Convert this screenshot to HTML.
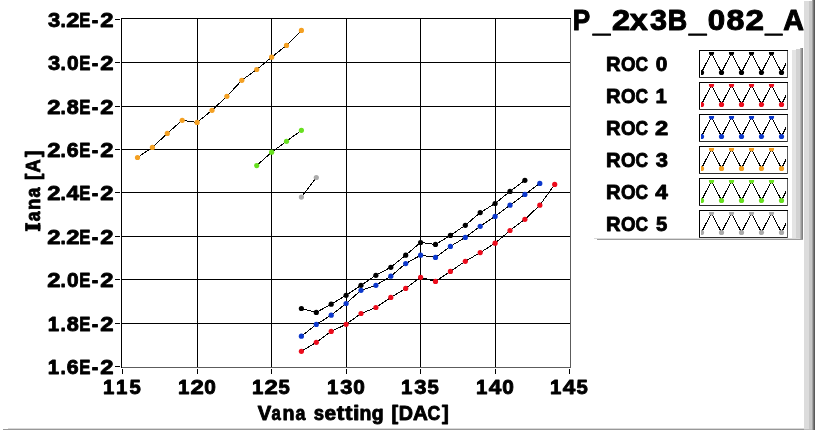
<!DOCTYPE html>
<html><head><meta charset="utf-8"><title>P_2x3B_082_A</title>
<style>
html,body{margin:0;padding:0;background:#fff;}
body{width:815px;height:430px;overflow:hidden;position:relative;font-family:"Liberation Sans",sans-serif;}
svg{position:absolute;left:0;top:0;display:block;will-change:transform}
text{font-family:"Liberation Sans",sans-serif;font-weight:bold;fill:#000;stroke:#000;stroke-width:0.9;stroke-linejoin:round;white-space:pre}
</style></head><body>
<svg width="815" height="430" viewBox="0 0 815 430">
<rect width="815" height="430" fill="#fff"/>

<g shape-rendering="crispEdges">
<rect x="8" y="428" width="796" height="1" fill="#d8d8d8"/>
<rect x="3" y="429" width="801" height="1" fill="#989898"/>
<rect x="804" y="1" width="5" height="428" fill="#dcdcdc"/>
<rect x="809" y="1" width="3" height="428" fill="#c8c8c8"/>
<rect x="804" y="429" width="8" height="1" fill="#bebebe"/>
<rect x="812" y="0" width="1" height="430" fill="#a4a4a4"/>
<rect x="813" y="0" width="1" height="430" fill="#787878"/>
<rect x="814" y="0" width="1" height="430" fill="#5a5a5a"/>
<rect x="792" y="50" width="4" height="190" fill="#e4e4e4"/>
<rect x="796" y="49" width="4" height="191" fill="#d2d2d2"/>
<rect x="800" y="48" width="1" height="192" fill="#b4b4b4"/>
<rect x="801" y="48" width="1" height="192" fill="#989898"/>
<rect x="802" y="48" width="1" height="192" fill="#808080"/>
<rect x="594" y="238" width="206" height="1" fill="#dadada"/>
<rect x="597" y="239" width="206" height="1" fill="#9c9c9c"/>
</g>
<g shape-rendering="crispEdges" stroke="#000" stroke-width="1">
<line x1="197.5" y1="19" x2="197.5" y2="367"/>
<line x1="271.5" y1="19" x2="271.5" y2="367"/>
<line x1="346.5" y1="19" x2="346.5" y2="367"/>
<line x1="420.5" y1="19" x2="420.5" y2="367"/>
<line x1="495.5" y1="19" x2="495.5" y2="367"/>
<line x1="122" y1="62.5" x2="570" y2="62.5"/>
<line x1="122" y1="106.5" x2="570" y2="106.5"/>
<line x1="122" y1="149.5" x2="570" y2="149.5"/>
<line x1="122" y1="192.5" x2="570" y2="192.5"/>
<line x1="122" y1="236.5" x2="570" y2="236.5"/>
<line x1="122" y1="279.5" x2="570" y2="279.5"/>
<line x1="122" y1="323.5" x2="570" y2="323.5"/>
</g>
<g shape-rendering="crispEdges">
<rect x="121" y="18" width="450" height="1" fill="#000"/>
<rect x="121" y="18" width="1" height="350" fill="#000"/>
<rect x="570" y="19" width="1" height="349" fill="#5c5c5c"/>
<rect x="122" y="367" width="449" height="1" fill="#5c5c5c"/>
<rect x="115" y="19" width="5" height="1" fill="#000"/>
<rect x="115" y="62" width="5" height="1" fill="#000"/>
<rect x="115" y="106" width="5" height="1" fill="#000"/>
<rect x="115" y="149" width="5" height="1" fill="#000"/>
<rect x="115" y="192" width="5" height="1" fill="#000"/>
<rect x="115" y="236" width="5" height="1" fill="#000"/>
<rect x="115" y="279" width="5" height="1" fill="#000"/>
<rect x="115" y="323" width="5" height="1" fill="#000"/>
<rect x="115" y="366" width="5" height="1" fill="#000"/>
<rect x="122" y="369" width="1" height="5" fill="#000"/>
<rect x="197" y="369" width="1" height="5" fill="#000"/>
<rect x="271" y="369" width="1" height="5" fill="#000"/>
<rect x="346" y="369" width="1" height="5" fill="#000"/>
<rect x="420" y="369" width="1" height="5" fill="#000"/>
<rect x="495" y="369" width="1" height="5" fill="#000"/>
<rect x="569" y="369" width="1" height="5" fill="#000"/>
</g>
<polyline points="301.4,308.5 316.3,312.4 331.2,304.2 346.1,295.3 361.0,285.3 375.9,275.3 390.8,267.3 405.7,255.2 420.6,242.5 435.5,244.4 450.4,235.4 465.3,225.3 480.2,212.6 495.1,203.5 510.0,191.4 524.9,180.3" fill="none" stroke="#000" stroke-width="1" shape-rendering="crispEdges"/>
<polyline points="301.4,351.3 316.3,342.3 331.2,331.4 346.1,324.3 361.0,313.5 375.9,307.5 390.8,297.4 405.7,288.4 420.6,277.3 435.5,281.4 450.4,271.4 465.3,261.3 480.2,252.6 495.1,243.2 510.0,230.5 524.9,219.3 539.8,205.2 554.7,184.4" fill="none" stroke="#000" stroke-width="1" shape-rendering="crispEdges"/>
<polyline points="301.4,336.2 316.3,324.4 331.2,315.2 346.1,303.5 361.0,290.3 375.9,285.3 390.8,276.2 405.7,263.6 420.6,255.2 435.5,257.4 450.4,246.4 465.3,237.4 480.2,226.3 495.1,216.4 510.0,205.2 524.9,194.4 539.8,183.4" fill="none" stroke="#000" stroke-width="1" shape-rendering="crispEdges"/>
<polyline points="137.5,157.5 152.4,147.4 167.3,133.4 182.2,120.3 197.1,122.4 212.0,110.3 226.9,96.3 241.8,80.3 256.7,69.5 271.6,57.2 286.5,45.4 301.4,30.4" fill="none" stroke="#000" stroke-width="1" shape-rendering="crispEdges"/>
<polyline points="256.7,165.6 271.6,152.2 286.5,141.3 301.4,130.3" fill="none" stroke="#000" stroke-width="1" shape-rendering="crispEdges"/>
<polyline points="301.4,197.1 316.3,177.5" fill="none" stroke="#000" stroke-width="1" shape-rendering="crispEdges"/>
<g fill="#000000"><circle cx="301.4" cy="308.5" r="2.6"/><circle cx="316.3" cy="312.4" r="2.6"/><circle cx="331.2" cy="304.2" r="2.6"/><circle cx="346.1" cy="295.3" r="2.6"/><circle cx="361.0" cy="285.3" r="2.6"/><circle cx="375.9" cy="275.3" r="2.6"/><circle cx="390.8" cy="267.3" r="2.6"/><circle cx="405.7" cy="255.2" r="2.6"/><circle cx="420.6" cy="242.5" r="2.6"/><circle cx="435.5" cy="244.4" r="2.6"/><circle cx="450.4" cy="235.4" r="2.6"/><circle cx="465.3" cy="225.3" r="2.6"/><circle cx="480.2" cy="212.6" r="2.6"/><circle cx="495.1" cy="203.5" r="2.6"/><circle cx="510.0" cy="191.4" r="2.6"/><circle cx="524.9" cy="180.3" r="2.6"/></g>
<g fill="#EC0C1C"><circle cx="301.4" cy="351.3" r="2.6"/><circle cx="316.3" cy="342.3" r="2.6"/><circle cx="331.2" cy="331.4" r="2.6"/><circle cx="346.1" cy="324.3" r="2.6"/><circle cx="361.0" cy="313.5" r="2.6"/><circle cx="375.9" cy="307.5" r="2.6"/><circle cx="390.8" cy="297.4" r="2.6"/><circle cx="405.7" cy="288.4" r="2.6"/><circle cx="420.6" cy="277.3" r="2.6"/><circle cx="435.5" cy="281.4" r="2.6"/><circle cx="450.4" cy="271.4" r="2.6"/><circle cx="465.3" cy="261.3" r="2.6"/><circle cx="480.2" cy="252.6" r="2.6"/><circle cx="495.1" cy="243.2" r="2.6"/><circle cx="510.0" cy="230.5" r="2.6"/><circle cx="524.9" cy="219.3" r="2.6"/><circle cx="539.8" cy="205.2" r="2.6"/><circle cx="554.7" cy="184.4" r="2.6"/></g>
<g fill="#0C38CC"><circle cx="301.4" cy="336.2" r="2.6"/><circle cx="316.3" cy="324.4" r="2.6"/><circle cx="331.2" cy="315.2" r="2.6"/><circle cx="346.1" cy="303.5" r="2.6"/><circle cx="361.0" cy="290.3" r="2.6"/><circle cx="375.9" cy="285.3" r="2.6"/><circle cx="390.8" cy="276.2" r="2.6"/><circle cx="405.7" cy="263.6" r="2.6"/><circle cx="420.6" cy="255.2" r="2.6"/><circle cx="435.5" cy="257.4" r="2.6"/><circle cx="450.4" cy="246.4" r="2.6"/><circle cx="465.3" cy="237.4" r="2.6"/><circle cx="480.2" cy="226.3" r="2.6"/><circle cx="495.1" cy="216.4" r="2.6"/><circle cx="510.0" cy="205.2" r="2.6"/><circle cx="524.9" cy="194.4" r="2.6"/><circle cx="539.8" cy="183.4" r="2.6"/></g>
<g fill="#F4A022"><circle cx="137.5" cy="157.5" r="2.6"/><circle cx="152.4" cy="147.4" r="2.6"/><circle cx="167.3" cy="133.4" r="2.6"/><circle cx="182.2" cy="120.3" r="2.6"/><circle cx="197.1" cy="122.4" r="2.6"/><circle cx="212.0" cy="110.3" r="2.6"/><circle cx="226.9" cy="96.3" r="2.6"/><circle cx="241.8" cy="80.3" r="2.6"/><circle cx="256.7" cy="69.5" r="2.6"/><circle cx="271.6" cy="57.2" r="2.6"/><circle cx="286.5" cy="45.4" r="2.6"/><circle cx="301.4" cy="30.4" r="2.6"/></g>
<g fill="#68E020"><circle cx="256.7" cy="165.6" r="2.6"/><circle cx="271.6" cy="152.2" r="2.6"/><circle cx="286.5" cy="141.3" r="2.6"/><circle cx="301.4" cy="130.3" r="2.6"/></g>
<g fill="#ABABAB"><circle cx="301.4" cy="197.1" r="2.6"/><circle cx="316.3" cy="177.5" r="2.6"/></g>
<text y="26.55" font-size="20.5"><tspan x="47.95" textLength="12.20" lengthAdjust="spacingAndGlyphs">3</tspan><tspan x="60.55" textLength="5.32" lengthAdjust="spacingAndGlyphs">.</tspan><tspan x="66.22" textLength="13.28" lengthAdjust="spacingAndGlyphs">2</tspan><tspan x="79.23" textLength="11.18" lengthAdjust="spacingAndGlyphs">E</tspan><tspan x="91.68" textLength="6.56" lengthAdjust="spacingAndGlyphs">-</tspan><tspan x="100.22" textLength="13.28" lengthAdjust="spacingAndGlyphs">2</tspan></text>
<text y="69.55" font-size="20.5"><tspan x="47.95" textLength="12.20" lengthAdjust="spacingAndGlyphs">3</tspan><tspan x="60.55" textLength="5.32" lengthAdjust="spacingAndGlyphs">.</tspan><tspan x="67.03" textLength="11.58" lengthAdjust="spacingAndGlyphs">0</tspan><tspan x="79.23" textLength="11.18" lengthAdjust="spacingAndGlyphs">E</tspan><tspan x="91.68" textLength="6.56" lengthAdjust="spacingAndGlyphs">-</tspan><tspan x="100.22" textLength="13.28" lengthAdjust="spacingAndGlyphs">2</tspan></text>
<text y="113.55" font-size="20.5"><tspan x="47.32" textLength="13.28" lengthAdjust="spacingAndGlyphs">2</tspan><tspan x="60.55" textLength="5.32" lengthAdjust="spacingAndGlyphs">.</tspan><tspan x="66.76" textLength="12.05" lengthAdjust="spacingAndGlyphs">8</tspan><tspan x="79.23" textLength="11.18" lengthAdjust="spacingAndGlyphs">E</tspan><tspan x="91.68" textLength="6.56" lengthAdjust="spacingAndGlyphs">-</tspan><tspan x="100.22" textLength="13.28" lengthAdjust="spacingAndGlyphs">2</tspan></text>
<text y="156.55" font-size="20.5"><tspan x="47.32" textLength="13.28" lengthAdjust="spacingAndGlyphs">2</tspan><tspan x="60.55" textLength="5.32" lengthAdjust="spacingAndGlyphs">.</tspan><tspan x="66.87" textLength="11.85" lengthAdjust="spacingAndGlyphs">6</tspan><tspan x="79.23" textLength="11.18" lengthAdjust="spacingAndGlyphs">E</tspan><tspan x="91.68" textLength="6.56" lengthAdjust="spacingAndGlyphs">-</tspan><tspan x="100.22" textLength="13.28" lengthAdjust="spacingAndGlyphs">2</tspan></text>
<text y="199.55" font-size="20.5"><tspan x="47.32" textLength="13.28" lengthAdjust="spacingAndGlyphs">2</tspan><tspan x="60.55" textLength="5.32" lengthAdjust="spacingAndGlyphs">.</tspan><tspan x="66.41" textLength="12.56" lengthAdjust="spacingAndGlyphs">4</tspan><tspan x="79.23" textLength="11.18" lengthAdjust="spacingAndGlyphs">E</tspan><tspan x="91.68" textLength="6.56" lengthAdjust="spacingAndGlyphs">-</tspan><tspan x="100.22" textLength="13.28" lengthAdjust="spacingAndGlyphs">2</tspan></text>
<text y="243.55" font-size="20.5"><tspan x="47.32" textLength="13.28" lengthAdjust="spacingAndGlyphs">2</tspan><tspan x="60.55" textLength="5.32" lengthAdjust="spacingAndGlyphs">.</tspan><tspan x="66.22" textLength="13.28" lengthAdjust="spacingAndGlyphs">2</tspan><tspan x="79.23" textLength="11.18" lengthAdjust="spacingAndGlyphs">E</tspan><tspan x="91.68" textLength="6.56" lengthAdjust="spacingAndGlyphs">-</tspan><tspan x="100.22" textLength="13.28" lengthAdjust="spacingAndGlyphs">2</tspan></text>
<text y="286.55" font-size="20.5"><tspan x="47.32" textLength="13.28" lengthAdjust="spacingAndGlyphs">2</tspan><tspan x="60.55" textLength="5.32" lengthAdjust="spacingAndGlyphs">.</tspan><tspan x="67.03" textLength="11.58" lengthAdjust="spacingAndGlyphs">0</tspan><tspan x="79.23" textLength="11.18" lengthAdjust="spacingAndGlyphs">E</tspan><tspan x="91.68" textLength="6.56" lengthAdjust="spacingAndGlyphs">-</tspan><tspan x="100.22" textLength="13.28" lengthAdjust="spacingAndGlyphs">2</tspan></text>
<text y="330.55" font-size="20.5"><tspan x="47.86" textLength="11.35" lengthAdjust="spacingAndGlyphs">1</tspan><tspan x="60.55" textLength="5.32" lengthAdjust="spacingAndGlyphs">.</tspan><tspan x="66.76" textLength="12.05" lengthAdjust="spacingAndGlyphs">8</tspan><tspan x="79.23" textLength="11.18" lengthAdjust="spacingAndGlyphs">E</tspan><tspan x="91.68" textLength="6.56" lengthAdjust="spacingAndGlyphs">-</tspan><tspan x="100.22" textLength="13.28" lengthAdjust="spacingAndGlyphs">2</tspan></text>
<text y="373.55" font-size="20.5"><tspan x="47.86" textLength="11.35" lengthAdjust="spacingAndGlyphs">1</tspan><tspan x="60.55" textLength="5.32" lengthAdjust="spacingAndGlyphs">.</tspan><tspan x="66.87" textLength="11.85" lengthAdjust="spacingAndGlyphs">6</tspan><tspan x="79.23" textLength="11.18" lengthAdjust="spacingAndGlyphs">E</tspan><tspan x="91.68" textLength="6.56" lengthAdjust="spacingAndGlyphs">-</tspan><tspan x="100.22" textLength="13.28" lengthAdjust="spacingAndGlyphs">2</tspan></text>
<text y="393.55" font-size="20.5"><tspan x="103.06" textLength="11.35" lengthAdjust="spacingAndGlyphs">1</tspan><tspan x="116.06" textLength="11.35" lengthAdjust="spacingAndGlyphs">1</tspan><tspan x="129.43" textLength="11.29" lengthAdjust="spacingAndGlyphs">5</tspan></text>
<text y="393.55" font-size="20.5"><tspan x="178.06" textLength="11.35" lengthAdjust="spacingAndGlyphs">1</tspan><tspan x="190.52" textLength="13.28" lengthAdjust="spacingAndGlyphs">2</tspan><tspan x="204.33" textLength="11.58" lengthAdjust="spacingAndGlyphs">0</tspan></text>
<text y="393.55" font-size="20.5"><tspan x="252.06" textLength="11.35" lengthAdjust="spacingAndGlyphs">1</tspan><tspan x="264.52" textLength="13.28" lengthAdjust="spacingAndGlyphs">2</tspan><tspan x="278.43" textLength="11.29" lengthAdjust="spacingAndGlyphs">5</tspan></text>
<text y="393.55" font-size="20.5"><tspan x="327.06" textLength="11.35" lengthAdjust="spacingAndGlyphs">1</tspan><tspan x="340.15" textLength="12.20" lengthAdjust="spacingAndGlyphs">3</tspan><tspan x="353.33" textLength="11.58" lengthAdjust="spacingAndGlyphs">0</tspan></text>
<text y="393.55" font-size="20.5"><tspan x="401.06" textLength="11.35" lengthAdjust="spacingAndGlyphs">1</tspan><tspan x="414.15" textLength="12.20" lengthAdjust="spacingAndGlyphs">3</tspan><tspan x="427.43" textLength="11.29" lengthAdjust="spacingAndGlyphs">5</tspan></text>
<text y="393.55" font-size="20.5"><tspan x="476.06" textLength="11.35" lengthAdjust="spacingAndGlyphs">1</tspan><tspan x="488.71" textLength="12.56" lengthAdjust="spacingAndGlyphs">4</tspan><tspan x="502.33" textLength="11.58" lengthAdjust="spacingAndGlyphs">0</tspan></text>
<text y="393.55" font-size="20.5"><tspan x="550.06" textLength="11.35" lengthAdjust="spacingAndGlyphs">1</tspan><tspan x="562.71" textLength="12.56" lengthAdjust="spacingAndGlyphs">4</tspan><tspan x="576.43" textLength="11.29" lengthAdjust="spacingAndGlyphs">5</tspan></text>
<text y="419.55" font-size="20.5"><tspan x="257.81" textLength="13.48" lengthAdjust="spacingAndGlyphs">V</tspan><tspan x="271.56" textLength="9.28" lengthAdjust="spacingAndGlyphs">a</tspan><tspan x="282.45" textLength="12.02" lengthAdjust="spacingAndGlyphs">n</tspan><tspan x="295.53" textLength="9.91" lengthAdjust="spacingAndGlyphs">a</tspan><tspan> </tspan><tspan x="313.80" textLength="10.31" lengthAdjust="spacingAndGlyphs">s</tspan><tspan x="324.63" textLength="11.63" lengthAdjust="spacingAndGlyphs">e</tspan><tspan x="336.77" textLength="7.55" lengthAdjust="spacingAndGlyphs">t</tspan><tspan x="345.07" textLength="7.55" lengthAdjust="spacingAndGlyphs">t</tspan><tspan x="352.92" textLength="6.48" lengthAdjust="spacingAndGlyphs">i</tspan><tspan x="359.47" textLength="11.89" lengthAdjust="spacingAndGlyphs">n</tspan><tspan x="371.75" textLength="11.90" lengthAdjust="spacingAndGlyphs">g</tspan><tspan> </tspan><tspan x="391.43" textLength="6.67" lengthAdjust="spacingAndGlyphs">[</tspan><tspan x="398.83" textLength="14.25" lengthAdjust="spacingAndGlyphs">D</tspan><tspan x="412.94" textLength="14.85" lengthAdjust="spacingAndGlyphs">A</tspan><tspan x="427.42" textLength="12.81" lengthAdjust="spacingAndGlyphs">C</tspan><tspan x="441.90" textLength="6.79" lengthAdjust="spacingAndGlyphs">]</tspan></text>
<text transform="translate(39.65,232) rotate(-90)" y="0" font-size="20.5"><tspan x="1.24" textLength="7.52" lengthAdjust="spacingAndGlyphs">I</tspan><tspan x="10.73" textLength="9.80" lengthAdjust="spacingAndGlyphs">a</tspan><tspan x="22.11" textLength="11.51" lengthAdjust="spacingAndGlyphs">n</tspan><tspan x="34.53" textLength="9.91" lengthAdjust="spacingAndGlyphs">a</tspan><tspan> </tspan><tspan x="52.07" textLength="6.42" lengthAdjust="spacingAndGlyphs">[</tspan><tspan x="59.39" textLength="13.24" lengthAdjust="spacingAndGlyphs">A</tspan><tspan x="75.01" textLength="6.42" lengthAdjust="spacingAndGlyphs">]</tspan></text>
<rect x="25.2" y="222.9" width="2.4" height="8.3" fill="#000"/><rect x="37.9" y="222.9" width="2.4" height="8.3" fill="#000"/>
<text y="30" font-size="28.9" style="stroke-width:1.0"><tspan x="572.85" y="30" textLength="17.44" lengthAdjust="spacingAndGlyphs">P</tspan><tspan x="592.90" y="32" textLength="17.23" lengthAdjust="spacingAndGlyphs">_</tspan><tspan x="612.07" y="30" textLength="18.14" lengthAdjust="spacingAndGlyphs">2</tspan><tspan x="629.88" y="30" textLength="17.96" lengthAdjust="spacingAndGlyphs">x</tspan><tspan x="650.10" y="30" textLength="17.01" lengthAdjust="spacingAndGlyphs">3</tspan><tspan x="667.70" y="30" textLength="19.42" lengthAdjust="spacingAndGlyphs">B</tspan><tspan x="689.00" y="32" textLength="17.32" lengthAdjust="spacingAndGlyphs">_</tspan><tspan x="707.86" y="30" textLength="17.42" lengthAdjust="spacingAndGlyphs">0</tspan><tspan x="726.48" y="30" textLength="17.91" lengthAdjust="spacingAndGlyphs">8</tspan><tspan x="745.45" y="30" textLength="18.48" lengthAdjust="spacingAndGlyphs">2</tspan><tspan x="765.30" y="32" textLength="16.84" lengthAdjust="spacingAndGlyphs">_</tspan><tspan x="783.19" y="30" textLength="20.67" lengthAdjust="spacingAndGlyphs">A</tspan></text>
<text y="70.55" font-size="20.5"><tspan x="606.00" textLength="14.56" lengthAdjust="spacingAndGlyphs">R</tspan><tspan x="620.98" textLength="14.55" lengthAdjust="spacingAndGlyphs">O</tspan><tspan x="635.53" textLength="12.59" lengthAdjust="spacingAndGlyphs">C</tspan><tspan> </tspan><tspan x="655.83" textLength="11.58" lengthAdjust="spacingAndGlyphs">0</tspan></text>
<g shape-rendering="crispEdges"><rect x="699" y="50" width="89" height="28" fill="#fff"/><rect x="699" y="50" width="89" height="1" fill="#000"/><rect x="699" y="50" width="1" height="28" fill="#000"/><rect x="699" y="77" width="89" height="1" fill="#2c2c2c"/><rect x="787" y="51" width="1" height="27" fill="#5c5c5c"/></g>
<clipPath id="c0"><rect x="701" y="52" width="85" height="24"/></clipPath>
<g clip-path="url(#c0)"><polyline points="701.5,72.5 711.5,52.8 721.5,72.5 731.5,52.8 741.5,72.5 751.5,52.8 761.5,72.5 771.5,52.8 781.5,72.5 791.5,52.8" fill="none" stroke="#000" stroke-width="1" shape-rendering="crispEdges"/>
<g fill="#000000"><circle cx="701.5" cy="72.5" r="2.6"/><circle cx="711.5" cy="52.8" r="2.6"/><circle cx="721.5" cy="72.5" r="2.6"/><circle cx="731.5" cy="52.8" r="2.6"/><circle cx="741.5" cy="72.5" r="2.6"/><circle cx="751.5" cy="52.8" r="2.6"/><circle cx="761.5" cy="72.5" r="2.6"/><circle cx="771.5" cy="52.8" r="2.6"/><circle cx="781.5" cy="72.5" r="2.6"/><circle cx="791.5" cy="52.8" r="2.6"/></g></g>
<text y="102.55" font-size="20.5"><tspan x="606.00" textLength="14.56" lengthAdjust="spacingAndGlyphs">R</tspan><tspan x="620.98" textLength="14.55" lengthAdjust="spacingAndGlyphs">O</tspan><tspan x="635.53" textLength="12.59" lengthAdjust="spacingAndGlyphs">C</tspan><tspan> </tspan><tspan x="655.56" textLength="11.35" lengthAdjust="spacingAndGlyphs">1</tspan></text>
<g shape-rendering="crispEdges"><rect x="699" y="82" width="89" height="28" fill="#fff"/><rect x="699" y="82" width="89" height="1" fill="#000"/><rect x="699" y="82" width="1" height="28" fill="#000"/><rect x="699" y="109" width="89" height="1" fill="#2c2c2c"/><rect x="787" y="83" width="1" height="27" fill="#5c5c5c"/></g>
<clipPath id="c1"><rect x="701" y="84" width="85" height="24"/></clipPath>
<g clip-path="url(#c1)"><polyline points="701.5,104.5 711.5,84.8 721.5,104.5 731.5,84.8 741.5,104.5 751.5,84.8 761.5,104.5 771.5,84.8 781.5,104.5 791.5,84.8" fill="none" stroke="#000" stroke-width="1" shape-rendering="crispEdges"/>
<g fill="#EC0C1C"><circle cx="701.5" cy="104.5" r="2.6"/><circle cx="711.5" cy="84.8" r="2.6"/><circle cx="721.5" cy="104.5" r="2.6"/><circle cx="731.5" cy="84.8" r="2.6"/><circle cx="741.5" cy="104.5" r="2.6"/><circle cx="751.5" cy="84.8" r="2.6"/><circle cx="761.5" cy="104.5" r="2.6"/><circle cx="771.5" cy="84.8" r="2.6"/><circle cx="781.5" cy="104.5" r="2.6"/><circle cx="791.5" cy="84.8" r="2.6"/></g></g>
<text y="134.55" font-size="20.5"><tspan x="606.00" textLength="14.56" lengthAdjust="spacingAndGlyphs">R</tspan><tspan x="620.98" textLength="14.55" lengthAdjust="spacingAndGlyphs">O</tspan><tspan x="635.53" textLength="12.59" lengthAdjust="spacingAndGlyphs">C</tspan><tspan> </tspan><tspan x="655.02" textLength="13.28" lengthAdjust="spacingAndGlyphs">2</tspan></text>
<g shape-rendering="crispEdges"><rect x="699" y="114" width="89" height="28" fill="#fff"/><rect x="699" y="114" width="89" height="1" fill="#000"/><rect x="699" y="114" width="1" height="28" fill="#000"/><rect x="699" y="141" width="89" height="1" fill="#2c2c2c"/><rect x="787" y="115" width="1" height="27" fill="#5c5c5c"/></g>
<clipPath id="c2"><rect x="701" y="116" width="85" height="24"/></clipPath>
<g clip-path="url(#c2)"><polyline points="701.5,136.5 711.5,116.8 721.5,136.5 731.5,116.8 741.5,136.5 751.5,116.8 761.5,136.5 771.5,116.8 781.5,136.5 791.5,116.8" fill="none" stroke="#000" stroke-width="1" shape-rendering="crispEdges"/>
<g fill="#0C38CC"><circle cx="701.5" cy="136.5" r="2.6"/><circle cx="711.5" cy="116.8" r="2.6"/><circle cx="721.5" cy="136.5" r="2.6"/><circle cx="731.5" cy="116.8" r="2.6"/><circle cx="741.5" cy="136.5" r="2.6"/><circle cx="751.5" cy="116.8" r="2.6"/><circle cx="761.5" cy="136.5" r="2.6"/><circle cx="771.5" cy="116.8" r="2.6"/><circle cx="781.5" cy="136.5" r="2.6"/><circle cx="791.5" cy="116.8" r="2.6"/></g></g>
<text y="166.55" font-size="20.5"><tspan x="606.00" textLength="14.56" lengthAdjust="spacingAndGlyphs">R</tspan><tspan x="620.98" textLength="14.55" lengthAdjust="spacingAndGlyphs">O</tspan><tspan x="635.53" textLength="12.59" lengthAdjust="spacingAndGlyphs">C</tspan><tspan> </tspan><tspan x="655.65" textLength="12.20" lengthAdjust="spacingAndGlyphs">3</tspan></text>
<g shape-rendering="crispEdges"><rect x="699" y="146" width="89" height="28" fill="#fff"/><rect x="699" y="146" width="89" height="1" fill="#000"/><rect x="699" y="146" width="1" height="28" fill="#000"/><rect x="699" y="173" width="89" height="1" fill="#2c2c2c"/><rect x="787" y="147" width="1" height="27" fill="#5c5c5c"/></g>
<clipPath id="c3"><rect x="701" y="148" width="85" height="24"/></clipPath>
<g clip-path="url(#c3)"><polyline points="701.5,168.5 711.5,148.8 721.5,168.5 731.5,148.8 741.5,168.5 751.5,148.8 761.5,168.5 771.5,148.8 781.5,168.5 791.5,148.8" fill="none" stroke="#000" stroke-width="1" shape-rendering="crispEdges"/>
<g fill="#F4A022"><circle cx="701.5" cy="168.5" r="2.6"/><circle cx="711.5" cy="148.8" r="2.6"/><circle cx="721.5" cy="168.5" r="2.6"/><circle cx="731.5" cy="148.8" r="2.6"/><circle cx="741.5" cy="168.5" r="2.6"/><circle cx="751.5" cy="148.8" r="2.6"/><circle cx="761.5" cy="168.5" r="2.6"/><circle cx="771.5" cy="148.8" r="2.6"/><circle cx="781.5" cy="168.5" r="2.6"/><circle cx="791.5" cy="148.8" r="2.6"/></g></g>
<text y="198.55" font-size="20.5"><tspan x="606.00" textLength="14.56" lengthAdjust="spacingAndGlyphs">R</tspan><tspan x="620.98" textLength="14.55" lengthAdjust="spacingAndGlyphs">O</tspan><tspan x="635.53" textLength="12.59" lengthAdjust="spacingAndGlyphs">C</tspan><tspan> </tspan><tspan x="655.21" textLength="12.56" lengthAdjust="spacingAndGlyphs">4</tspan></text>
<g shape-rendering="crispEdges"><rect x="699" y="178" width="89" height="28" fill="#fff"/><rect x="699" y="178" width="89" height="1" fill="#000"/><rect x="699" y="178" width="1" height="28" fill="#000"/><rect x="699" y="205" width="89" height="1" fill="#2c2c2c"/><rect x="787" y="179" width="1" height="27" fill="#5c5c5c"/></g>
<clipPath id="c4"><rect x="701" y="180" width="85" height="24"/></clipPath>
<g clip-path="url(#c4)"><polyline points="701.5,200.5 711.5,180.8 721.5,200.5 731.5,180.8 741.5,200.5 751.5,180.8 761.5,200.5 771.5,180.8 781.5,200.5 791.5,180.8" fill="none" stroke="#000" stroke-width="1" shape-rendering="crispEdges"/>
<g fill="#68E020"><circle cx="701.5" cy="200.5" r="2.6"/><circle cx="711.5" cy="180.8" r="2.6"/><circle cx="721.5" cy="200.5" r="2.6"/><circle cx="731.5" cy="180.8" r="2.6"/><circle cx="741.5" cy="200.5" r="2.6"/><circle cx="751.5" cy="180.8" r="2.6"/><circle cx="761.5" cy="200.5" r="2.6"/><circle cx="771.5" cy="180.8" r="2.6"/><circle cx="781.5" cy="200.5" r="2.6"/><circle cx="791.5" cy="180.8" r="2.6"/></g></g>
<text y="230.55" font-size="20.5"><tspan x="606.00" textLength="14.56" lengthAdjust="spacingAndGlyphs">R</tspan><tspan x="620.98" textLength="14.55" lengthAdjust="spacingAndGlyphs">O</tspan><tspan x="635.53" textLength="12.59" lengthAdjust="spacingAndGlyphs">C</tspan><tspan> </tspan><tspan x="655.93" textLength="11.29" lengthAdjust="spacingAndGlyphs">5</tspan></text>
<g shape-rendering="crispEdges"><rect x="699" y="210" width="89" height="28" fill="#fff"/><rect x="699" y="210" width="89" height="1" fill="#000"/><rect x="699" y="210" width="1" height="28" fill="#000"/><rect x="699" y="237" width="89" height="1" fill="#2c2c2c"/><rect x="787" y="211" width="1" height="27" fill="#5c5c5c"/></g>
<clipPath id="c5"><rect x="701" y="212" width="85" height="24"/></clipPath>
<g clip-path="url(#c5)"><polyline points="701.5,232.5 711.5,212.8 721.5,232.5 731.5,212.8 741.5,232.5 751.5,212.8 761.5,232.5 771.5,212.8 781.5,232.5 791.5,212.8" fill="none" stroke="#000" stroke-width="1" shape-rendering="crispEdges"/>
<g fill="#ABABAB"><circle cx="701.5" cy="232.5" r="2.6"/><circle cx="711.5" cy="212.8" r="2.6"/><circle cx="721.5" cy="232.5" r="2.6"/><circle cx="731.5" cy="212.8" r="2.6"/><circle cx="741.5" cy="232.5" r="2.6"/><circle cx="751.5" cy="212.8" r="2.6"/><circle cx="761.5" cy="232.5" r="2.6"/><circle cx="771.5" cy="212.8" r="2.6"/><circle cx="781.5" cy="232.5" r="2.6"/><circle cx="791.5" cy="212.8" r="2.6"/></g></g>
</svg></body></html>
